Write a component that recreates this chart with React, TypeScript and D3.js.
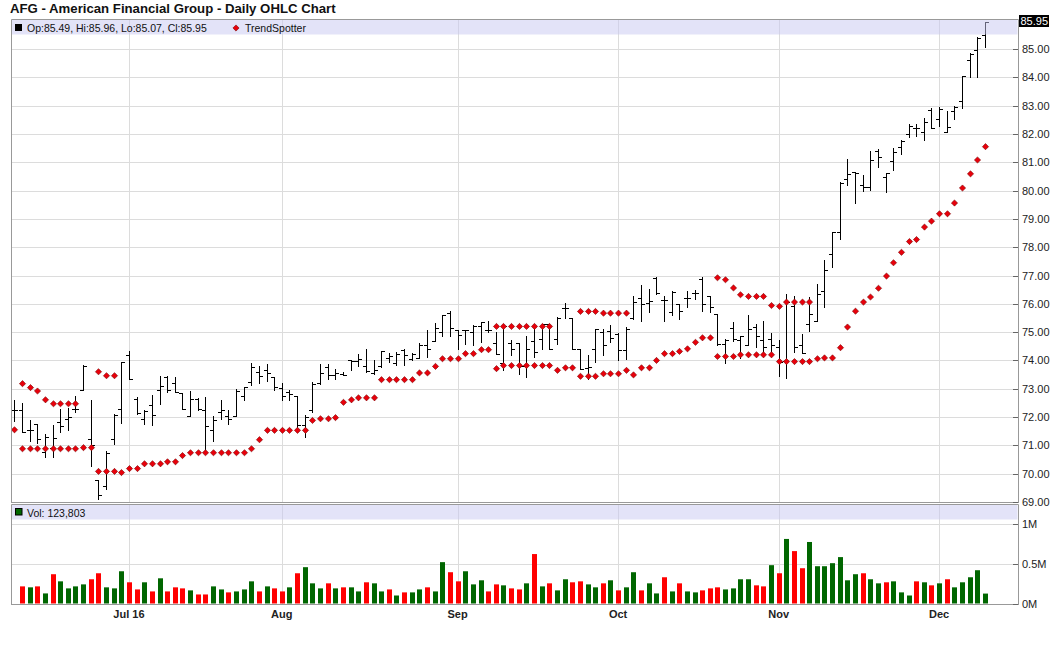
import React from "react";
import * as d3 from "d3";

// ---- Data (AFG daily, Jun 10 2016 .. Dec 9 2016) ----
const opens = [
  72.24, 72.26, 71.53, 71.76, 70.75, 70.9, 71.82, 71.94, 72.27, 72.94,
  71.24, 69.76, 69.56, 71.24, 72.29, 74.2, 72.65, 71.94, 72.41, 72.94,
  73.41, 73.2, 72.85, 72.02, 72.65, 72.24, 71.56, 72.18, 72.02, 72.02,
  72.76, 73.24, 73.6, 73.67, 73.41, 73.04, 72.88, 72.76, 71.73, 72.26,
  73.21, 73.76, 73.47, 73.53, 74.0, 73.98, 73.82, 73.55, 73.82, 74.09,
  73.92, 74.38, 74.06, 74.08, 74.53, 74.67, 75.0, 75.67, 75.06, 75.06,
  75.0, 75.2, 75.09, 74.61, 73.92, 74.61, 74.61, 73.79, 74.7, 74.74,
  75.29, 74.74, 75.85, 75.5, 74.41, 73.74, 74.41, 75.0, 75.04, 74.94,
  74.37, 75.5, 76.2, 76.02, 76.9, 76.12, 75.71, 75.98, 76.21, 76.38,
  76.88, 76.26, 75.65, 74.59, 75.14, 74.71, 74.56, 75.18, 74.71, 74.76,
  74.47, 73.98, 75.92, 74.56, 75.27, 75.41, 76.44, 77.76, 78.53, 80.41,
  80.65, 80.21, 80.14, 81.4, 80.47, 81.06, 81.55, 82.0, 82.2, 82.06,
  82.85, 82.53, 82.06, 82.8, 83.18, 84.61, 84.96, 85.49,
];
const highs = [
  72.61, 72.51, 71.88, 71.76, 71.39, 71.71, 72.29, 72.32, 72.76, 73.85,
  72.6, 69.76, 70.8, 72.12, 73.94, 74.32, 72.7, 72.24, 72.79, 73.44,
  73.44, 73.41, 72.85, 72.91, 72.67, 72.7, 72.02, 72.61, 72.24, 73.0,
  73.06, 73.92, 73.8, 73.88, 73.41, 73.21, 72.96, 72.76, 72.06, 73.24,
  73.88, 73.88, 73.71, 73.59, 74.0, 74.24, 74.41, 74.02, 74.35, 74.26,
  74.29, 74.41, 74.25, 74.61, 75.06, 75.33, 75.62, 75.74, 75.08, 75.08,
  75.24, 75.35, 75.39, 75.0, 75.24, 74.73, 74.61, 74.88, 75.12, 75.29,
  75.29, 75.53, 76.02, 75.5, 74.41, 74.18, 75.12, 75.12, 75.24, 74.96,
  75.18, 76.26, 76.65, 76.53, 76.94, 76.29, 76.45, 75.98, 76.47, 76.49,
  76.96, 76.29, 75.65, 74.76, 75.35, 74.85, 75.59, 75.27, 75.41, 74.96,
  74.71, 76.33, 76.26, 74.94, 76.24, 76.71, 77.56, 78.55, 80.29, 81.12,
  80.65, 80.56, 81.41, 81.47, 80.62, 81.5, 81.8, 82.35, 82.35, 82.56,
  82.92, 82.96, 82.8, 83.0, 84.06, 84.85, 85.41, 85.96,
];
const lows = [
  71.85, 71.47, 71.15, 71.08, 70.59, 70.6, 71.47, 71.56, 72.18, 72.94,
  70.27, 69.1, 69.45, 71.06, 71.79, 73.35, 72.12, 71.76, 71.73, 72.47,
  72.88, 72.88, 72.27, 72.02, 72.24, 70.74, 71.15, 71.94, 71.76, 72.02,
  72.61, 73.14, 73.2, 73.29, 72.94, 72.62, 72.61, 71.53, 71.29, 72.18,
  73.18, 73.35, 73.35, 73.47, 73.65, 73.82, 73.59, 73.53, 73.76, 73.94,
  73.85, 73.85, 74.0, 74.08, 74.12, 74.67, 74.88, 74.88, 74.41, 74.59,
  74.53, 74.65, 75.0, 74.24, 73.65, 74.18, 73.53, 73.41, 74.12, 74.41,
  74.41, 74.59, 75.5, 74.41, 73.71, 73.35, 73.94, 74.18, 74.65, 74.0,
  74.06, 75.47, 75.41, 75.71, 76.35, 75.41, 75.59, 75.47, 75.88, 76.18,
  75.76, 75.71, 74.53, 73.91, 74.68, 74.09, 74.56, 74.49, 74.18, 74.35,
  73.44, 73.38, 74.29, 74.27, 75.04, 75.41, 75.88, 77.29, 78.29, 80.18,
  79.56, 79.98, 80.02, 80.82, 79.94, 80.71, 81.3, 81.88, 81.94, 81.79,
  82.2, 82.29, 82.06, 82.53, 82.92, 84.02, 84.0, 85.07,
];
const closes = [
  72.26, 71.47, 71.55, 71.21, 71.28, 71.25, 71.68, 72.0, 72.29, 73.82,
  71.0, 69.25, 70.74, 72.06, 73.94, 73.35, 72.14, 72.2, 72.06, 73.08,
  72.94, 72.9, 72.29, 72.65, 72.29, 71.7, 71.91, 72.24, 71.94, 72.91,
  73.06, 73.76, 73.45, 73.55, 73.06, 72.76, 72.82, 71.73, 72.0, 73.18,
  73.56, 73.5, 73.55, 73.5, 73.98, 74.05, 73.62, 73.67, 74.33, 74.14,
  74.24, 74.2, 74.22, 74.56, 74.41, 75.14, 75.62, 75.14, 74.91, 75.08,
  75.21, 75.35, 75.09, 74.24, 75.2, 74.41, 73.79, 74.41, 74.3, 75.29,
  74.41, 75.5, 75.85, 74.41, 73.71, 73.76, 75.12, 74.53, 74.8, 74.37,
  75.12, 76.08, 76.0, 76.1, 76.38, 76.12, 76.41, 75.76, 76.21, 76.38,
  76.0, 75.88, 74.59, 74.71, 74.75, 74.85, 75.12, 74.85, 74.47, 74.55,
  73.94, 76.06, 74.47, 74.27, 75.65, 76.35, 77.18, 78.53, 80.26, 80.59,
  80.62, 80.14, 81.08, 81.2, 80.62, 81.35, 81.76, 82.29, 82.2, 82.41,
  82.2, 82.88, 82.24, 82.96, 84.06, 84.82, 85.39, 85.95,
];
// TrendSpotter dots (two tracks; null where no dot)
const trendUpper: (number | null)[] = [
  null, 73.18, 73.04, 72.92, 72.61, 72.47, 72.47, 72.47, 72.47, null,
  null, 73.6, 73.46, 73.46, null, null, null, null, null, null,
  null, null, null, null, null, null, null, null, null, null,
  null, null, null, null, null, null, null, null, null, null,
  null, null, null, null, null, null, null, null, null, null,
  null, null, null, null, null, null, null, null, null, null,
  null, null, null, 75.2, 75.2, 75.2, 75.2, 75.2, 75.2, 75.2,
  75.2, null, null, null, 75.73, 75.73, 75.73, 75.67, 75.67, 75.67,
  75.67, null, null, null, null, null, null, null, null, null,
  null, null, 76.92, 76.85, 76.56, 76.32, 76.26, 76.26, 76.26, 75.94,
  75.91, 76.06, 76.06, 76.06, 76.06, null, null, null, null, null,
  null, null, null, null, null, null, null, null, null, null,
  null, null, null, null, null, null, null, null,
];
const trendLower: (number | null)[] = [
  71.55, 70.88, 70.88, 70.88, 70.88, 70.88, 70.88, 70.88, 70.88, 70.92,
  70.92, 70.08, 70.08, 70.08, 70.04, 70.18, 70.18, 70.35, 70.35, 70.35,
  70.42, 70.42, 70.64, 70.74, 70.74, 70.74, 70.74, 70.74, 70.74, 70.74,
  70.74, 70.88, 71.2, 71.53, 71.53, 71.53, 71.53, 71.53, 71.53, 71.88,
  71.94, 71.94, 71.98, 72.52, 72.61, 72.68, 72.68, 72.68, 73.32, 73.32,
  73.32, 73.32, 73.32, 73.56, 73.56, 73.79, 74.06, 74.06, 74.06, 74.24,
  74.24, 74.38, 74.38, 73.71, 73.82, 73.82, 73.82, 73.82, 73.82, 73.82,
  73.82, 73.65, 73.74, 73.74, 73.44, 73.44, 73.44, 73.53, 73.53, 73.53,
  73.65, 73.49, 73.74, 73.74, 74.0, 74.24, 74.24, 74.32, 74.41, 74.64,
  74.8, 74.8, 74.14, 74.14, 74.14, 74.2, 74.2, 74.2, 74.2, 74.2,
  73.96, 73.96, 73.96, 73.96, 73.96, 74.06, 74.09, 74.09, 74.45, 75.18,
  75.74, 76.06, 76.24, 76.55, 76.98, 77.45, 77.82, 78.2, 78.27, 78.71,
  78.92, 79.18, 79.18, 79.56, 80.09, 80.59, 81.08, 81.55,
];
// Volume in millions of shares (first day not shown)
const volumes: (number | null)[] = [
  null, 0.214, 0.202, 0.214, 0.126, 0.366, 0.277, 0.189, 0.214, 0.239,
  0.303, 0.378, 0.202, 0.189, 0.403, 0.265, 0.176, 0.265, 0.151, 0.315,
  0.151, 0.202, 0.189, 0.164, 0.113, 0.113, 0.214, 0.176, 0.139, 0.151,
  0.176, 0.277, 0.151, 0.214, 0.189, 0.151, 0.202, 0.378, 0.454, 0.252,
  0.189, 0.252, 0.189, 0.202, 0.202, 0.151, 0.265, 0.252, 0.151, 0.176,
  0.1, 0.139, 0.139, 0.176, 0.202, 0.151, 0.517, 0.391, 0.277, 0.403,
  0.239, 0.29, 0.151, 0.239, 0.227, 0.189, 0.176, 0.252, 0.618, 0.214,
  0.252, 0.164, 0.303, 0.265, 0.277, 0.239, 0.202, 0.252, 0.29, 0.164,
  0.202, 0.391, 0.164, 0.252, 0.126, 0.328, 0.151, 0.252, 0.151, 0.139,
  0.164, 0.189, 0.202, 0.176, 0.189, 0.303, 0.303, 0.227, 0.214, 0.479,
  0.378, 0.807, 0.655, 0.441, 0.769, 0.466, 0.466, 0.504, 0.58, 0.29,
  0.366, 0.378, 0.303, 0.252, 0.265, 0.277, 0.139, 0.1, 0.277, 0.265,
  0.227, 0.252, 0.303, 0.202, 0.265, 0.328, 0.416, 0.124,
];
const monthLabels = ["Jul 16", "Aug", "Sep", "Oct", "Nov", "Dec"];
const monthStartIndex = [15, 35, 58, 79, 100, 121];
const priceTicks = [69, 70, 71, 72, 73, 74, 75, 76, 77, 78, 79, 80, 81, 82, 83, 84, 85];
const volTicks = [0, 0.5, 1];
const volTickLabels = ["0M", "0.5M", "1M"];
const titleText = "AFG - American Financial Group - Daily OHLC Chart";
const lastVolumeText = "Vol: 123,803";

const FONT = "'Liberation Sans', Arial, sans-serif";

export default function App() {
  const n = closes.length;
  const x = d3.scaleLinear().domain([-0.43, 131.32]).range([11, 1018]);
  const y = d3.scaleLinear().domain([69, 86.06]).range([502, 19]);
  const yv = d3.scaleLinear().domain([0, 1.05]).range([603.5, 519.5]);
  const px = (i: number) => Math.round(x(i)) + 0.5;
  const py = (v: number) => Math.round(y(v)) + 0.5;
  const fmt = d3.format(".2f");
  const last = n - 1;
  const legend = `Op:${fmt(opens[last])}, Hi:${fmt(highs[last])}, Lo:${fmt(lows[last])}, Cl:${fmt(closes[last])}`;
  const diamond = "M0,-3.1L3.1,0L0,3.1L-3.1,0Z";

  return (
    <svg
      width={1060}
      height={645}
      style={{ position: "absolute", left: 0, top: 0, background: "#fff" }}
      fontFamily={FONT}
    >
      <rect x={0} y={0} width={1060} height={645} fill="#fff" />
      <text x={10} y={13} fontSize={13.2} fontWeight="bold" fill="#111">{titleText}</text>

      {/* price gridlines */}
      {priceTicks.map((t) => (
        <line key={"g" + t} x1={11} x2={1013} y1={py(t)} y2={py(t)} stroke="#dcdcdc" />
      ))}
      {/* volume gridlines */}
      {volTicks.slice(1).map((t) => (
        <line key={"vg" + t} x1={11} x2={1013} y1={Math.round(yv(t)) + 0.5} y2={Math.round(yv(t)) + 0.5} stroke="#dcdcdc" />
      ))}
      {/* month gridlines */}
      {monthStartIndex.map((mi) => (
        <g key={"m" + mi}>
          <line x1={px(mi)} x2={px(mi)} y1={20} y2={502} stroke="#dcdcdc" />
          <line x1={px(mi)} x2={px(mi)} y1={505} y2={604} stroke="#dcdcdc" />
        </g>
      ))}

      {/* OHLC bars */}
      {closes.map((c, i) => {
        const xx = px(i);
        return (
          <g key={"b" + i} stroke="#000" strokeWidth={1}>
            <line x1={xx} x2={xx} y1={Math.round(y(highs[i]))} y2={Math.round(y(lows[i])) + 1} />
            <line x1={xx - 3.5} x2={xx} y1={py(opens[i])} y2={py(opens[i])} />
            <line x1={xx} x2={xx + 3.5} y1={py(c)} y2={py(c)} />
          </g>
        );
      })}

      {/* TrendSpotter */}
      {[trendUpper, trendLower].map((arr, k) =>
        arr.map((v, i) =>
          v == null ? null : (
            <path key={"t" + k + "-" + i} d={diamond} transform={`translate(${px(i)},${y(v)})`} fill="#e8000b" stroke="#7a0000" strokeWidth={0.6} />
          )
        )
      )}

      {/* volume bars */}
      {volumes.map((v, i) =>
        v == null ? null : (
          <rect
            key={"v" + i}
            x={Math.round(x(i)) - 2}
            y={yv(v)}
            width={5}
            height={yv(0) - yv(v)}
            fill={i > 0 && closes[i] < closes[i - 1] ? "#ff0000" : "#006600"}
          />
        )
      )}

      {/* header bands */}
      <rect x={11.5} y={20} width={1006} height={14.5} fill="#c8c8f2" opacity={0.5} />
      <rect x={11.5} y={505} width={1006} height={14.5} fill="#c8c8f2" opacity={0.5} />

      {/* panel frames */}
      <path d="M11.5,502.5V19.5H1018.5V502.5" fill="none" stroke="#999" />
      <line x1={11} x2={1019} y1={502.5} y2={502.5} stroke="#999" />
      <path d="M11.5,604.5V504.5H1018.5V604.5" fill="none" stroke="#999" />
      <line x1={11} x2={1019} y1={604.5} y2={604.5} stroke="#999" />

      {/* legends */}
      <rect x={15} y={24} width={7} height={7} fill="#000" />
      <text x={27} y={32} fontSize={10.5} fill="#111">{legend}</text>
      <path d={diamond} transform="translate(236,28)" fill="#e8000b" stroke="#7a0000" strokeWidth={0.6} />
      <text x={245} y={32} fontSize={10.5} fill="#111">TrendSpotter</text>

      <rect x={15.5} y={508.5} width={6.5} height={6.5} fill="#006600" stroke="#000" strokeWidth={1} />
      <text x={27} y={516.5} fontSize={10.5} fill="#111">{lastVolumeText}</text>

      {/* right price axis */}
      {priceTicks.map((t) => (
        <g key={"a" + t}>
          <line x1={1013} x2={1018} y1={py(t)} y2={py(t)} stroke="#666" />
          <text x={1022} y={y(t) + 4} fontSize={11} fill="#222">{fmt(t)}</text>
        </g>
      ))}
      <rect x={1019} y={15} width={30} height={12} fill="#000" />
      <text x={1020.5} y={25} fontSize={11} fill="#fff">{fmt(closes[last])}</text>

      {/* volume axis */}
      {volTicks.map((t, k) => (
        <g key={"va" + t}>
          <line x1={1013} x2={1018} y1={Math.round(yv(t)) + 0.5} y2={Math.round(yv(t)) + 0.5} stroke="#666" />
          <text x={1022} y={yv(t) + 4} fontSize={11} fill="#222">{volTickLabels[k]}</text>
        </g>
      ))}

      {/* month labels */}
      {monthStartIndex.map((mi, k) => (
        <text key={"ml" + mi} x={x(mi)} y={618} fontSize={11} fontWeight="bold" textAnchor="middle" fill="#222">
          {monthLabels[k]}
        </text>
      ))}
    </svg>
  );
}
